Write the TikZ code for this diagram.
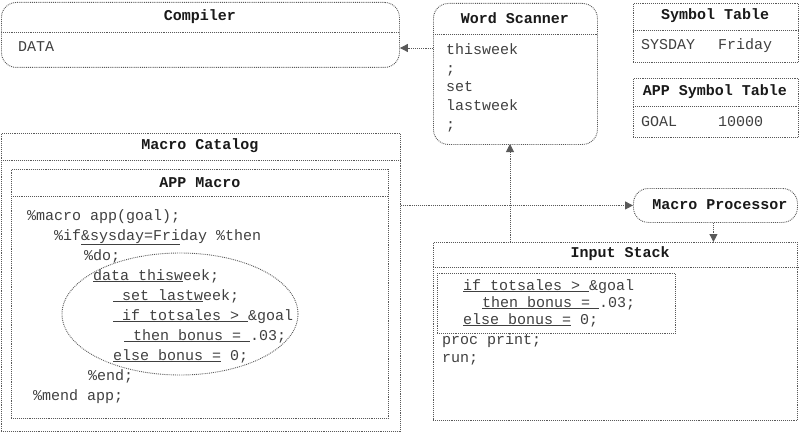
\documentclass[tikz,border=0pt]{standalone}
\usepackage{fontspec}
\setmonofont{Liberation Mono}
\usetikzlibrary{arrows.meta}

\tikzset{
  wire/.style={draw=black!65, densely dotted, line width=0.9pt},
  panel/.style={wire, rectangle, inner sep=0pt, anchor=north west},
  roundpanel/.style={panel, rounded corners=15pt},
  head/.style={font=\ttfamily\bfseries\fontsize{15}{18}\selectfont, text=black!90, inner sep=0pt},
  code/.style={font=\ttfamily\fontsize{15}{18}\selectfont, text=black!75, anchor=base west, inner sep=0pt},
  flow/.style={wire, -{Triangle[length=8pt,width=8pt]}}
}

\begin{document}
\begin{tikzpicture}[x=1pt, y=-1pt]
\useasboundingbox (0,0) rectangle (800,433);

% compiler
\node[roundpanel, minimum width=398pt, minimum height=65pt] (compiler) at (1,2) {};
\draw[wire] (compiler.west |- 0,32) -- (compiler.east |- 0,32);
\node[head] (compilerhead) at (200,17) {Compiler};
\node[code] (compilerdata) at (18,52) {DATA};

% word scanner
\node[roundpanel, minimum width=164pt, minimum height=141pt] (scanner) at (433,3) {};
\draw[wire] (scanner.west |- 0,34) -- (scanner.east |- 0,34);
\node[head] (scannerhead) at (515,18) {Word Scanner};
\foreach \w [count=\i from 0] in {thisweek, ;, set, lastweek, ;}
  \node[code] (scan\i) at (446,55+18.5*\i) {\w};
\coordinate (scanfoot) at (510,144);

% symbol tables
\node[panel, minimum width=165pt, minimum height=59pt] (symtab) at (633,3) {};
\draw[wire] (symtab.west |- 0,30) -- (symtab.east |- 0,30);
\node[head] (symtabhead) at (715,16) {Symbol Table};
\node[code] (symname) at (641,50) {SYSDAY};
\node[code] (symvalue) at (718,50) {Friday};

\node[panel, minimum width=165pt, minimum height=59pt] (appsymtab) at (633,78) {};
\draw[wire] (appsymtab.west |- 0,106) -- (appsymtab.east |- 0,106);
\node[head] (appsymtabhead) at (715,92) {APP Symbol Table};
\node[code] (appsymname) at (641,127) {GOAL};
\node[code] (appsymvalue) at (718,127) {10000};

% macro catalog
\node[panel, minimum width=399pt, minimum height=298pt] (catalog) at (1,133) {};
\draw[wire] (catalog.west |- 0,160) -- (catalog.east |- 0,160);
\node[head] (cataloghead) at (200,146) {Macro Catalog};

\node[panel, minimum width=377pt, minimum height=249pt] (appmacro) at (11,169) {};
\draw[wire] (appmacro.west |- 0,196) -- (appmacro.east |- 0,196);
\node[head] (appmacrohead) at (200,183) {APP Macro};
\foreach \px/\py/\txt [count=\i] in {
    27/220/{\%macro app(goal);},
    54/240/{\%if\underline{\&sysday=Fri}day \%then},
    84/260/{\%do;},
    93/280/{\underline{data thisw}eek;},
    113/300/{\underline{ set lastw}eek;},
    113/320/{\underline{ if totsales > }\&goal},
    124/340/{\underline{ then bonus = }.03;},
    113/360/{\underline{else bonus =} 0;},
    88/380/{\%end;},
    33/400/{\%mend app;}}
  \node[code] (macroline\i) at (\px,\py) {\txt};
\draw[wire] (180,314) ellipse [x radius=118, y radius=61];

% macro processor
\node[roundpanel, minimum width=164pt, minimum height=34pt] (processor) at (633,188) {};
\node[head] (processorhead) at (720,205) {Macro Processor};

% input stack
\node[panel, minimum width=364pt, minimum height=178pt] (stack) at (433,242) {};
\draw[wire] (stack.west |- 0,267) -- (stack.east |- 0,267);
\node[head] (stackhead) at (620,254) {Input Stack};
\node[panel, minimum width=238pt, minimum height=60pt] (pending) at (437,273) {};
\node[code] (stackline1) at (463,290) {\underline{if totsales > }\&goal};
\node[code] (stackline2) at (482,307) {\underline{then bonus = }.03;};
\node[code] (stackline3) at (463,324) {\underline{else bonus =} 0;};
\node[code] (stackline4) at (442,344) {proc print;};
\node[code] (stackline5) at (442,362) {run;};

% connectors
\draw[flow] (scanner.west |- 0,48) -- (compiler.east |- 0,48);
\draw[flow] (stack.north -| scanfoot) -- (scanfoot);
\draw[flow] (catalog.east |- processor.west) -- (processor.west);
\draw[flow] ([xshift=-2pt]processor.south) -- ([xshift=-2pt]processor.south |- stack.north);
\end{tikzpicture}
\end{document}
